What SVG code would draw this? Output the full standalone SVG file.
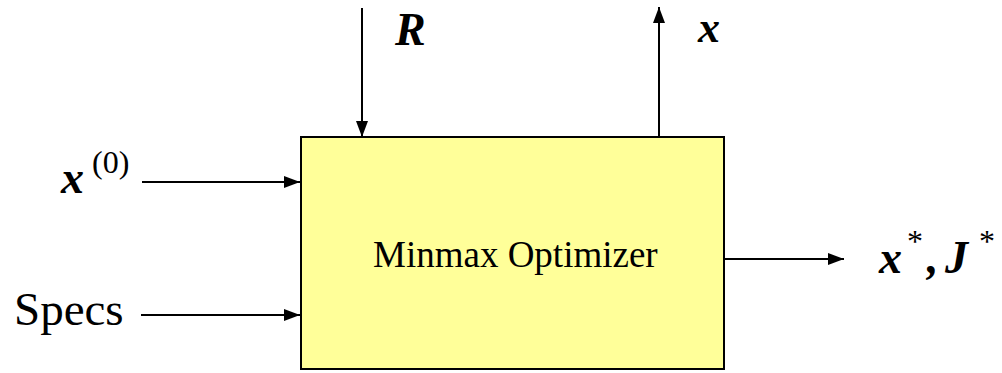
<svg xmlns="http://www.w3.org/2000/svg" width="1002" height="373" viewBox="0 0 1002 373">
<style>
.c{stroke:#000;stroke-width:2;fill:none}
text{font-family:"Liberation Serif","Times New Roman",serif;fill:#000}
.bi{font-weight:bold;font-style:italic}
</style>
<defs>
<marker id="ah" markerWidth="16" markerHeight="12" refX="16" refY="6" orient="auto" markerUnits="userSpaceOnUse">
<path d="M0,0 L16,6 L0,12 Z" fill="#000"/>
</marker>
</defs>
<rect width="1002" height="373" fill="#fff"/>
<g id="optimizer">
<rect x="301" y="137" width="423" height="232" fill="#ffff99" stroke="#000" stroke-width="2"/>
<text x="373" y="267" font-size="37">Minmax Optimizer</text>
</g>
<g id="label-R"><text class="bi" x="395" y="45" font-size="46">R</text></g>
<g id="label-x"><text class="bi" x="698" y="42" font-size="44">x</text></g>
<g id="label-x0"><text class="bi" x="61" y="193" font-size="46">x</text><text x="92" y="173" font-size="32">(0)</text></g>
<g id="label-specs"><text x="14" y="325" font-size="47">Specs</text></g>
<g id="label-out"><text class="bi" x="879" y="273" font-size="46">x</text><text x="907" y="252" font-size="32">*</text><text class="bi" x="927" y="273" font-size="46">,</text><text class="bi" x="945" y="273" font-size="46">J</text><text x="979" y="252" font-size="32">*</text></g>
<g id="connectors">
<line class="c" x1="362" y1="8" x2="362" y2="137" marker-end="url(#ah)"/>
<line class="c" x1="659" y1="137" x2="659" y2="7" marker-end="url(#ah)"/>
<line class="c" x1="142" y1="182" x2="300" y2="182" marker-end="url(#ah)"/>
<line class="c" x1="141" y1="315" x2="300" y2="315" marker-end="url(#ah)"/>
<line class="c" x1="724" y1="259" x2="844" y2="259" marker-end="url(#ah)"/>
</g>
</svg>
